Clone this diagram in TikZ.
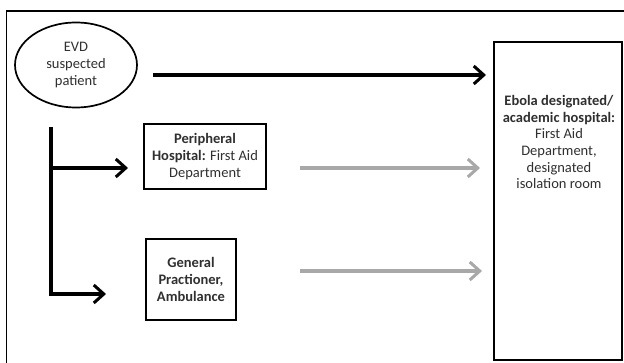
\documentclass[tikz,border=0pt]{standalone}
\usepackage{fontspec}
\setmainfont{Carlito}
\usetikzlibrary{arrows.meta,shapes.geometric}
\definecolor{txt}{HTML}{303030}
\definecolor{garrow}{HTML}{A8A8A8}
\tikzset{
  every node/.style={font=\fontsize{14.5}{16.6}\selectfont, text=txt, align=center},
  boxstyle/.style={draw=black, line width=1.7pt, inner sep=0pt},
  blk/.style={draw=black, line width=3.4pt, -{Straight Barb[length=10pt,width=18pt,line width=3pt]}},
  gry/.style={draw=garrow, line width=3.2pt, -{Straight Barb[length=10pt,width=18pt,line width=3pt]}},
  blkline/.style={draw=black, line width=3.4pt}
}
\begin{document}
\begin{tikzpicture}[x=1pt,y=-1pt]
\useasboundingbox (0,0) rectangle (624,363);
\clip (0,0) rectangle (624,363);
\fill[white] (0,0) rectangle (624,363);
\draw[line width=1.5pt] (6.5,11) rectangle (700,420);
\node[ellipse, draw=black, line width=1.7pt, minimum width=122, minimum height=85, inner sep=0pt] (evd) at (76,65) {EVD\\suspected\\patient};
\node[boxstyle, minimum width=128, minimum height=318] (ebola) at (558,201) {};
\node[anchor=north] (ebolatext) at (559,92) {\textbf{Ebola designated/}\\\textbf{academic hospital:}\\First Aid\\Department,\\designated\\isolation room};
\node[boxstyle, minimum width=122, minimum height=65] (periph) at (205,156.5) {\textbf{Peripheral}\\\textbf{Hospital:} First Aid\\Department};
\node[boxstyle, minimum width=90, minimum height=81] (gp) at (191,279.5) {\textbf{General}\\\textbf{Practioner,}\\\textbf{Ambulance}};
\coordinate (top0) at (153,75);
\coordinate (top1) at (486,75);
\coordinate (split) at (51,127);
\coordinate (b1) at (128,168);
\coordinate (b2) at (106,294);
\coordinate (g1a) at (300,168);
\coordinate (g1b) at (480,168);
\coordinate (g2a) at (300,271);
\coordinate (g2b) at (482,271);
\draw[blk] (top0) -- (top1);
\draw[blkline] (split) -- (split |- b2);
\draw[blk] ([xshift=-1.7pt]split |- b2) -- (b2);
\draw[blk] (split |- b1) -- (b1);
\draw[gry] (g1a) -- (g1b);
\draw[gry] (g2a) -- (g2b);
\end{tikzpicture}
\end{document}
